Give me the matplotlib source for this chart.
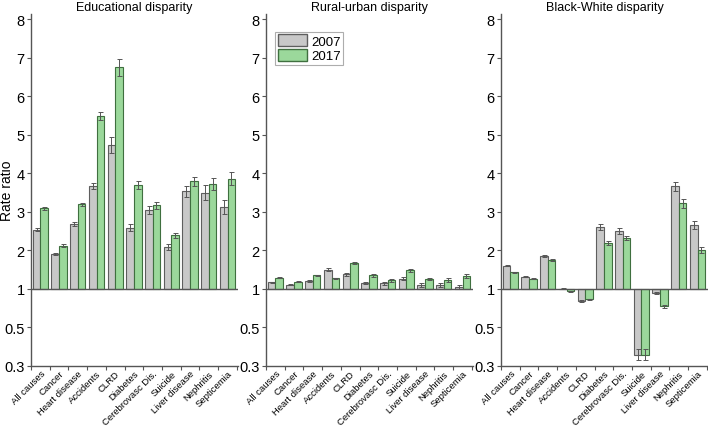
import numpy as np
import matplotlib
matplotlib.use("Agg")
import matplotlib.pyplot as plt
from matplotlib.patches import Patch

plt.rcParams['font.family'] = ['Liberation Sans', 'DejaVu Sans']

causes = ["All causes", "Cancer", "Heart disease", "Accidents", "CLRD", "Diabetes",
          "Cerebrovasc Dis.", "Suicide", "Liver disease", "Nephritis", "Septicemia"]
years = ["2007", "2017"]
titles = ["Educational disparity", "Rural-urban disparity", "Black-White disparity"]

# rate ratios, 2007 and 2017
edu_2007 = [2.53, 1.90, 2.68, 3.66, 4.73, 2.59, 3.05, 2.09, 3.53, 3.50, 3.13]
edu_2017 = [3.09, 2.12, 3.19, 5.49, 6.75, 3.69, 3.17, 2.39, 3.79, 3.72, 3.86]
edu_err_2007 = [0.04, 0.03, 0.05, 0.08, 0.21, 0.09, 0.11, 0.07, 0.15, 0.20, 0.18]
edu_err_2017 = [0.04, 0.04, 0.05, 0.10, 0.22, 0.10, 0.09, 0.06, 0.12, 0.16, 0.17]

ru_2007 = [1.17, 1.11, 1.21, 1.50, 1.38, 1.15, 1.14, 1.26, 1.10, 1.10, 1.05]
ru_2017 = [1.29, 1.19, 1.35, 1.27, 1.68, 1.35, 1.22, 1.48, 1.26, 1.22, 1.33]
ru_err_2007 = [0.01, 0.01, 0.02, 0.03, 0.04, 0.03, 0.03, 0.04, 0.04, 0.04, 0.04]
ru_err_2017 = [0.01, 0.01, 0.02, 0.02, 0.03, 0.03, 0.04, 0.04, 0.03, 0.05, 0.05]

bw_2007 = [1.60, 1.32, 1.86, 1.01, 0.76, 2.61, 2.50, 0.37, 0.90, 3.66, 2.66]
bw_2017 = [1.43, 1.26, 1.75, 0.94, 0.79, 2.20, 2.32, 0.37, 0.69, 3.22, 2.01]
bw_err_2007 = [0.01, 0.01, 0.02, 0.01, 0.02, 0.07, 0.07, 0.02, 0.02, 0.12, 0.11]
bw_err_2017 = [0.01, 0.01, 0.02, 0.01, 0.01, 0.05, 0.06, 0.02, 0.02, 0.11, 0.07]

panels = [
    (edu_2007, edu_2017, edu_err_2007, edu_err_2017),
    (ru_2007, ru_2017, ru_err_2007, ru_err_2017),
    (bw_2007, bw_2017, bw_err_2007, bw_err_2017),
]

yticks = [1 / 3, 0.5, 1, 2, 3, 4, 5, 6, 7, 8]
ytick_labels = ["0.3", "0.5", "1", "2", "3", "4", "5", "6", "7", "8"]


# ratios above 1 linear, below 1 on reciprocal scale
def fwd(v):
    v = np.clip(np.asarray(v, dtype=float), 0.05, None)
    return np.where(v >= 1, v - 1, 1 - 1 / v)


def inv(y):
    y = np.clip(np.asarray(y, dtype=float), -19, None)
    return np.where(y >= 0, y + 1, 1 / (1 - y))


gray = "#c8c8c8"
green = "#9bd89b"
gray_edge = "#5e5e5e"
green_edge = "#3f6f3f"
axis_col = "#555555"

fig = plt.figure(figsize=(7.08, 4.27), dpi=100)
lefts = [31 / 708, 266 / 708, 501 / 708]
width = 207 / 708
bottom = 1 - 367 / 427
height = (367 - 15) / 427

x = np.arange(len(causes))
w = 0.41

for i, (v07, v17, e07, e17) in enumerate(panels):
    ax = fig.add_axes([lefts[i], bottom, width, height])
    ax.set_ylim(1 / 3, 8.13)
    ax.set_yscale('function', functions=(fwd, inv))
    ax.set_ylim(1 / 3, 8.13)
    ax.set_xlim(-0.48, 10.56)
    ax.set_autoscale_on(False)
    v07 = np.array(v07)
    v17 = np.array(v17)
    ax.bar(x - w / 2, v07 - 1, w, bottom=1, color=gray, edgecolor=gray_edge,
           linewidth=0.8, zorder=2)
    ax.bar(x + w / 2, v17 - 1, w, bottom=1, color=green, edgecolor=green_edge,
           linewidth=0.8, zorder=2)
    ax.errorbar(x - w / 2, v07, yerr=e07, fmt='none', ecolor="#555555",
                elinewidth=0.7, capsize=1.8, capthick=0.7, zorder=3)
    ax.errorbar(x + w / 2, v17, yerr=e17, fmt='none', ecolor="#555555",
                elinewidth=0.7, capsize=1.8, capthick=0.7, zorder=3)
    ax.axhline(1, color=axis_col, linewidth=1.0, zorder=4)

    ax.set_ylim(1 / 3, 8.13)
    ax.set_xlim(-0.48, 10.56)
    ax.set_yticks(yticks)
    ax.set_yticklabels(ytick_labels, fontsize=10.5)
    ax.yaxis.set_minor_locator(matplotlib.ticker.NullLocator())
    ax.set_xticks(x)
    ax.set_xticklabels(causes, rotation=45, ha='right', rotation_mode='anchor',
                       fontsize=6.8)
    ax.set_xticks(np.arange(len(causes) + 1) - 0.5, minor=True)
    ax.tick_params(axis='x', which='major', length=0, pad=2)
    ax.tick_params(axis='x', which='minor', length=3, color=axis_col, width=0.8)
    ax.tick_params(axis='y', length=3, color=axis_col, width=0.8, pad=1.5)

    for side in ['top', 'right']:
        ax.spines[side].set_visible(False)
    for side in ['left', 'bottom']:
        ax.spines[side].set_color(axis_col)
        ax.spines[side].set_linewidth(1.0)

    ax.set_title(titles[i], fontsize=9, pad=3)
    if i == 0:
        ax.set_ylabel("Rate ratio", fontsize=10)
        ax.yaxis.set_label_coords(-0.08, 0.5)
    if i == 1:
        handles = [Patch(facecolor=gray, edgecolor=gray_edge, label=years[0]),
                   Patch(facecolor=green, edgecolor=green_edge, label=years[1])]
        leg = ax.legend(handles=handles, loc='upper left', bbox_to_anchor=(0.045, 0.95),
                        fontsize=9.5, fancybox=False, edgecolor="#999999",
                        handlelength=2.2, handleheight=1.0, handletextpad=0.3,
                        borderpad=0.2, labelspacing=0.1, borderaxespad=0)
        leg.get_frame().set_linewidth(0.8)

fig.savefig("out.png", dpi=100)
